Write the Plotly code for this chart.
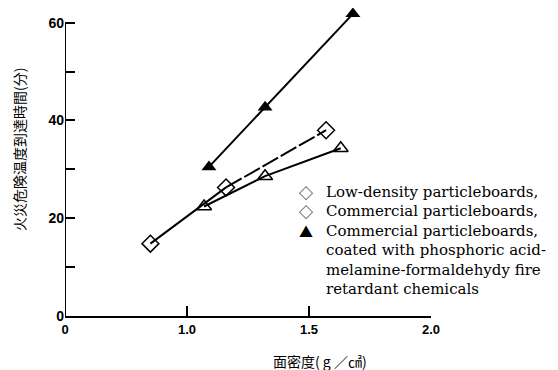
import plotly.graph_objects as go

# data
low_x = [0.85, 1.16, 1.57]
low_y = [14.8, 26.3, 38.0]
com_x = [1.07, 1.32, 1.63]
com_y = [22.4, 28.6, 34.3]
fr_x = [1.09, 1.32, 1.68]
fr_y = [30.5, 42.7, 61.8]

x_tickvals = [0.5, 1.0, 1.5, 2.0]
x_ticktext = ["0", "1.0", "1.5", "2.0"]
y_tickvals = [0, 10, 20, 30, 40, 50, 60]
y_ticktext = ["0", "", "20", "", "40", "", "60"]

legend_symbols = ["◇", "◇", "▲", "", "", ""]
legend_texts = [
    "Low-density particleboards,",
    "Commercial particleboards,",
    "Commercial particleboards,",
    "coated with phosphoric acid-",
    "melamine-formaldehydy fire",
    "retardant chemicals",
]

W, H = 558, 370
ml, mr, mt, mb = 65, 127, 8, 54
pw, ph = W - ml - mr, H - mt - mb


def px(x):
    return (x - ml) / pw


def py(y):
    return 1 - (y - mt) / ph


fig = go.Figure()
black = "black"
fig.add_trace(go.Scatter(x=low_x[:2], y=low_y[:2], mode="lines",
                         line=dict(color=black, width=2)))
fig.add_trace(go.Scatter(x=low_x[1:], y=low_y[1:], mode="lines",
                         line=dict(color=black, width=2, dash="18px,3px")))
fig.add_trace(go.Scatter(x=low_x, y=low_y, mode="markers",
                         marker=dict(symbol="diamond-open", size=13, color=black,
                                     line=dict(width=1.5, color=black))))
fig.add_trace(go.Scatter(x=com_x, y=com_y, mode="lines+markers",
                         line=dict(color=black, width=2),
                         marker=dict(symbol="triangle-up-open", size=13, color=black,
                                     line=dict(width=1.5, color=black))))
fig.add_trace(go.Scatter(x=fr_x, y=fr_y, mode="lines+markers",
                         line=dict(color=black, width=2),
                         marker=dict(symbol="triangle-up", size=13, color=black)))

# y axis line from 0 to 60
fig.add_shape(type="line", xref="x", yref="y", x0=0.5, x1=0.5, y0=0, y1=60,
              line=dict(color=black, width=2))

for i, (s, t) in enumerate(zip(legend_symbols, legend_texts)):
    yy = 192 + i * 19.4
    if s:
        fig.add_annotation(x=px(306), y=py(yy), xref="paper", yref="paper",
                           text=s, showarrow=False, xanchor="center", yanchor="middle",
                           font=dict(family="Noto Sans CJK JP", size=14, color=black))
    fig.add_annotation(x=px(324), y=py(yy), xref="paper", yref="paper",
                       text=t, showarrow=False, xanchor="left", yanchor="middle",
                       font=dict(family="DejaVu Serif", size=15, color=black))

fig.add_annotation(x=px(19), y=py(150), xref="paper", yref="paper",
                   text="火災危険温度到達時間(分)", textangle=-90, showarrow=False,
                   xanchor="center", yanchor="middle",
                   font=dict(family="Noto Sans CJK JP", size=14, color=black))
fig.add_annotation(x=px(320), y=py(361), xref="paper", yref="paper",
                   text="面密度( g ／㎠)", showarrow=False,
                   xanchor="center", yanchor="middle",
                   font=dict(family="Noto Sans CJK JP", size=14, color=black))

fig.update_layout(
    width=W, height=H, margin=dict(l=ml, r=mr, t=mt, b=mb),
    paper_bgcolor="white", plot_bgcolor="white", showlegend=False,
    xaxis=dict(range=[0.5, 2.0], tickvals=x_tickvals, ticktext=x_ticktext,
               ticks="inside", ticklen=10, tickwidth=2, tickcolor=black,
               showline=True, linecolor=black, linewidth=2, showgrid=False,
               zeroline=False,
               tickfont=dict(family="Liberation Sans", size=13, color=black, weight="bold")),
    yaxis=dict(range=[0, 63], tickvals=y_tickvals, ticktext=y_ticktext,
               ticks="inside", ticklen=10, tickwidth=2, tickcolor=black,
               showline=False, showgrid=False, zeroline=False,
               tickfont=dict(family="Liberation Sans", size=14, color=black, weight="bold")),
)
fig.write_html("out.html")
